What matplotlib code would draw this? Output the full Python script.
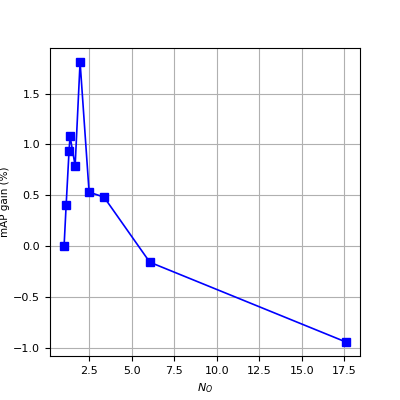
import matplotlib
matplotlib.use("Agg")
import matplotlib.pyplot as plt

n_o = [1.03, 1.15, 1.32, 1.38, 1.68, 1.97, 2.5, 3.38, 6.07, 17.6]
map_gain = [0.0, 0.40, 0.93, 1.08, 0.79, 1.81, 0.53, 0.48, -0.16, -0.945]

fig, ax = plt.subplots(figsize=(4, 4), dpi=100)
ax.plot(n_o, map_gain, color='blue', marker='s', markersize=5.5, linewidth=1.2)
ax.grid(True)
ax.set_xlabel('$N_O$', fontsize=8)
ax.set_ylabel('mAP gain (%)', fontsize=7.5, labelpad=2)
ax.tick_params(labelsize=8)
fig.savefig('out.png', dpi=100)
